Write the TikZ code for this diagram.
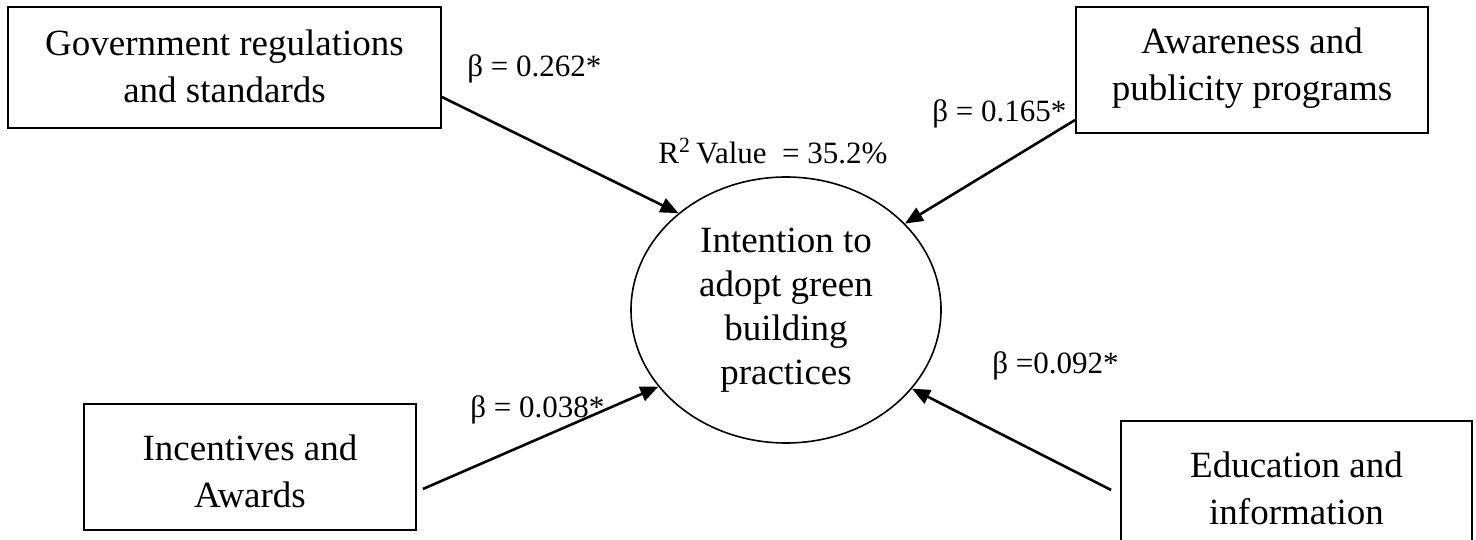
\documentclass[tikz,border=0pt]{standalone}
\usepackage{fontspec}
\setmainfont{Liberation Serif}
\usetikzlibrary{arrows.meta,shapes.geometric}
\begin{document}
\begin{tikzpicture}[x=0.5pt,y=-0.5pt,
  boxshape/.style={draw, line width=0.9pt, rectangle, inner sep=0pt},
  boxtext/.style={align=center, font=\fontsize{18.5}{23.5}\selectfont, inner sep=0pt},
  lbl/.style={font=\fontsize{15.5}{18}\selectfont, inner sep=0pt, anchor=base west},
  conn/.style={line width=1.3pt, -{Triangle[length=9pt,width=7.5pt]}}]
\useasboundingbox (0,0) rectangle (1476,540);

% boxes
\node[boxshape, minimum width=216.5pt, minimum height=60.5pt] (gov) at (224.5,67.5) {};
\node[boxtext] (govt) at (224.5,66) {Government regulations\\and standards};

\node[boxshape, minimum width=176pt, minimum height=63pt] (aw) at (1252,70) {};
\node[boxtext] (awt) at (1252,68) {Awareness and\\publicity programs};

\node[boxshape, minimum width=166pt, minimum height=63pt] (inc) at (250,467) {};
\node[boxtext] (inct) at (250,471) {Incentives and\\Awards};

\node[boxshape, minimum width=175.5pt, minimum height=74.5pt] (edu) at (1296.5,495.5) {};
\node[boxtext] (edut) at (1296.5,488) {Education and\\information};

% central ellipse
\node[draw, ellipse, line width=0.8pt, minimum width=155pt, minimum height=133pt, inner sep=0pt,
      align=center, font=\fontsize{18.5}{22}\selectfont] (int) at (786,310)
      {Intention to\\adopt green\\building\\practices};

% connectors
\draw[conn] ([yshift=-14.75pt]gov.east) -- (int.138);
\draw[conn] ([yshift=-25pt]aw.west) -- (int.36);
\draw[conn] ([xshift=3pt,yshift=-11pt]inc.east) -- (int.211);
\draw[conn] ([xshift=-4.5pt,yshift=2.75pt]edu.west) -- (int.328);

% labels
\node[lbl] (b1) at (467,77) {β = 0.262*};
\node[lbl] (b2) at (932,121) {β = 0.165*};
\node[lbl] (r2) at (658,163) {R\textsuperscript{2}\,Value\ \ = 35.2\%};
\node[lbl] (b3) at (470,417) {β = 0.038*};
\node[lbl] (b4) at (992,373) {β =0.092*};
\end{tikzpicture}
\end{document}
